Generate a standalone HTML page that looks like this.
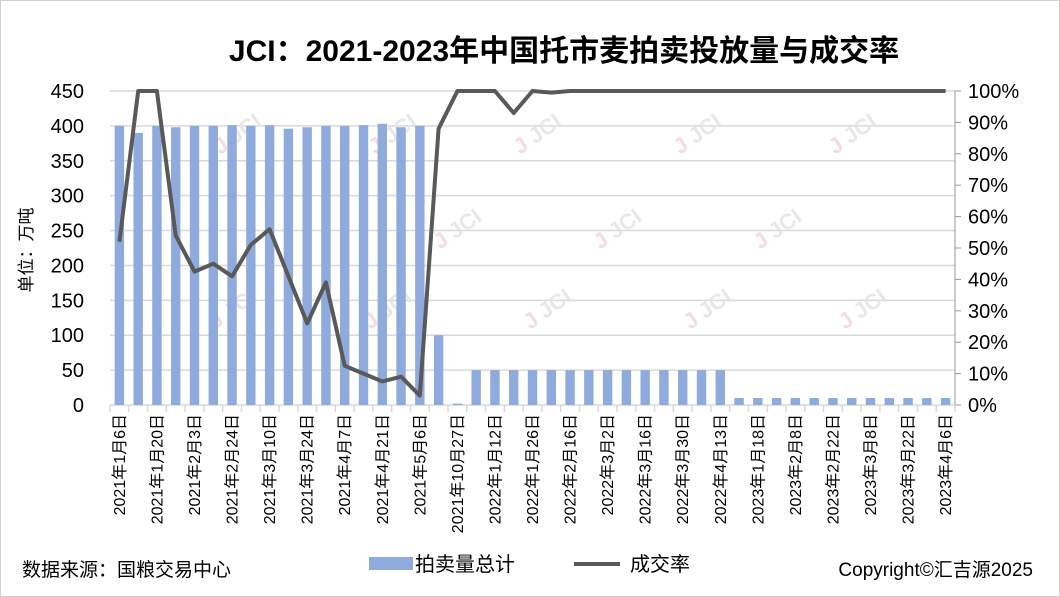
<!DOCTYPE html>
<html><head><meta charset="utf-8">
<style>
body{margin:0;background:#fff;}
svg{display:block;font-family:"Liberation Sans","Noto Sans CJK SC",sans-serif;}
</style></head><body>
<svg id="c" width="1060" height="597" xmlns="http://www.w3.org/2000/svg"></svg>
<script>
const s=document.getElementById('c');let h='';
h+='<rect x="0.5" y="0.5" width="1059" height="596" fill="#fff" stroke="#d0d0d0"/>';
h+='<text x="564" y="61" text-anchor="middle" font-size="30" font-weight="bold" fill="#000">JCI：2021-2023年中国托市麦拍卖投放量与成交率</text>';
const L=110,R=955,T=91,B=405,n=45,w=(R-L)/n;
const y=v=>B-v/450*(B-T), yp=p=>B-p/100*(B-T);
for(let i=0;i<=9;i++){const v=i*50,yy=y(v);
 if(i>0)h+=`<line x1="${L}" x2="${R}" y1="${yy}" y2="${yy}" stroke="#d9d9d9" stroke-width="1.5"/>`;
 h+=`<text x="84" y="${yy+7}" text-anchor="end" font-size="20" fill="#000">${v}</text>`;}
for(let i=0;i<=10;i++){const yy=yp(i*10);
 h+=`<line x1="${R}" x2="${R+6}" y1="${yy}" y2="${yy}" stroke="#999"/>`;
 h+=`<text x="968" y="${yy+7}" font-size="20" fill="#000">${i*10}%</text>`;}
h+=`<line x1="${R}" x2="${R}" y1="${T}" y2="${B}" stroke="#999"/>`;
h+=`<line x1="${L}" x2="${R}" y1="${B}" y2="${B}" stroke="#d9d9d9" stroke-width="1.5"/>`;
for(let i=0;i<=n;i++){const xx=L+i*w;h+=`<line x1="${xx}" x2="${xx}" y1="${B}" y2="${B+7}" stroke="#d9d9d9" stroke-width="1.5"/>`;}
h+='<text transform="translate(32,250) rotate(-90)" text-anchor="middle" font-size="17">单位：万吨</text>';
[[220,155],[375,155],[520,155],[680,155],[835,155],[440,250],[600,250],[760,250],[215,330],[370,330],[530,330],[690,330],[845,330]].forEach(p=>{
 h+=`<text transform="translate(${p[0]},${p[1]}) rotate(-35)" font-size="22" font-weight="bold" fill="#f5d5d5" opacity="0.8">J<tspan fill="#e3e3e3"> JCI</tspan></text>`;});
const bars=[400,390,400,398,400,400,401,400,401,396,398,400,400,401,403,398,400,100,2];
for(let i=0;i<14;i++)bars.push(50);for(let i=0;i<12;i++)bars.push(10);
bars.forEach((v,i)=>{const cx=L+(i+0.5)*w;h+=`<rect x="${cx-4.7}" y="${y(v)}" width="9.4" height="${B-y(v)}" fill="#8faadc"/>`;});
const pc=[52,100,100,54,42.5,45,41,51,56,41,26,39,12.5,10,7.5,9,3,88,100,100,100,93,100,99.5];
while(pc.length<45)pc.push(100);
h+='<polyline fill="none" stroke="#595959" stroke-width="4" stroke-linejoin="round" points="'+pc.map((p,i)=>`${(L+(i+0.5)*w).toFixed(1)},${yp(p).toFixed(1)}`).join(' ')+'"/>';
const lab=['2021年1月6日','2021年1月20日','2021年2月3日','2021年2月24日','2021年3月10日','2021年3月24日','2021年4月7日','2021年4月21日','2021年5月6日','2021年10月27日','2022年1月12日','2022年1月26日','2022年2月16日','2022年3月2日','2022年3月16日','2022年3月30日','2022年4月13日','2023年1月18日','2023年2月8日','2023年2月22日','2023年3月8日','2023年3月22日','2023年4月6日'];
lab.forEach((t,k)=>{const cx=L+(2*k+0.5)*w+5.5;h+=`<text transform="translate(${cx},414) rotate(-90)" text-anchor="end" font-size="16" fill="#000">${t}</text>`;});
h+='<text x="22" y="576" font-size="19">数据来源：国粮交易中心</text>';
h+='<rect x="369" y="557" width="44" height="13" fill="#8faadc"/><text x="415" y="571" font-size="20">拍卖量总计</text>';
h+='<line x1="574" x2="620" y1="564" y2="564" stroke="#595959" stroke-width="4"/><text x="630" y="571" font-size="20">成交率</text>';
h+='<text x="1033" y="576" text-anchor="end" font-size="19">Copyright©汇吉源2025</text>';
s.innerHTML=h;
</script>
</body></html>
